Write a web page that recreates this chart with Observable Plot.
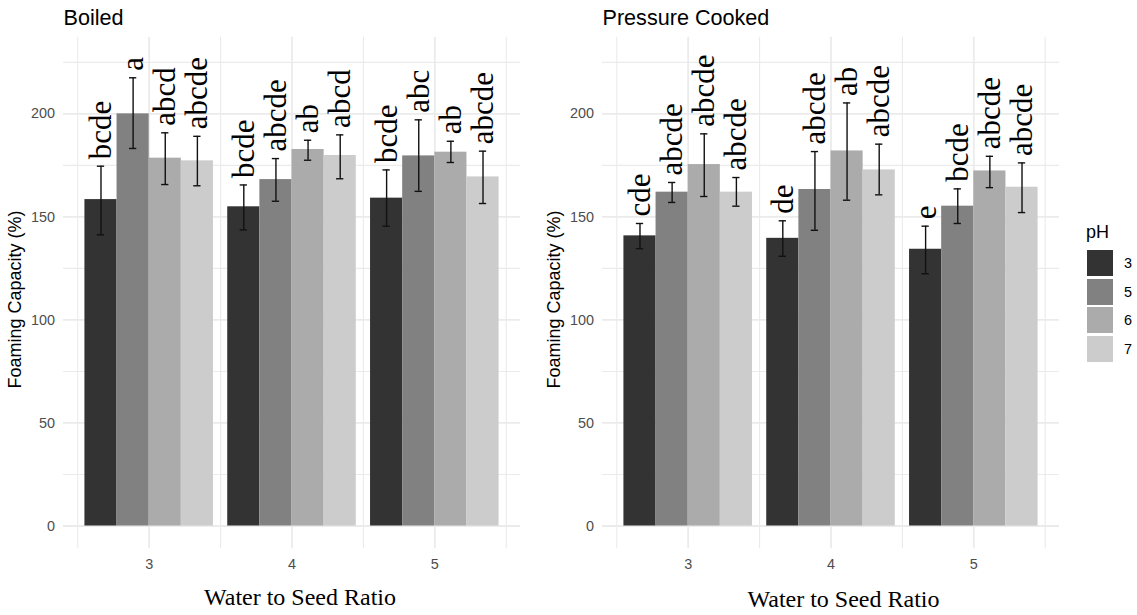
<!DOCTYPE html>
<html>
<head>
<meta charset="utf-8">
<script src="https://cdn.jsdelivr.net/npm/d3@7"></script>
<script src="https://cdn.jsdelivr.net/npm/@observablehq/plot@0.6"></script>
<style>
  body { margin: 0; background: #ffffff; }
  #root { position: relative; width: 1137px; height: 615px; overflow: hidden; background: #ffffff;
          font-family: "Liberation Sans", Arial, sans-serif; }
  .panel { position: absolute; top: 0; }
  .lg { position: absolute; white-space: nowrap; }
</style>
</head>
<body>
<div id="root"></div>
<script>
// ---------- data ----------
const panelTitles = ["Boiled", "Pressure Cooked"];
const ratios = [3, 4, 5];
const phLevels = ["3", "5", "6", "7"];
const phColors = ["#333333", "#818181", "#ABABAB", "#CCCCCC"];
const yTicks = [0, 50, 100, 150, 200];

// rows = water-to-seed ratio 3,4,5 ; columns = pH 3,5,6,7
const boiledMean    = [[158.4, 200.0, 178.5, 177.2], [154.9, 168.1, 182.7, 179.8], [159.1, 179.6, 181.4, 169.4]];
const boiledHigh    = [[174.6, 217.5, 190.8, 189.1], [165.5, 178.3, 187.2, 189.8], [172.8, 197.1, 186.7, 181.9]];
const boiledLow     = [[141.3, 183.2, 165.7, 165.1], [143.7, 157.6, 177.5, 168.5], [145.5, 162.4, 176.4, 156.5]];
const boiledLetters = [["bcde", "a", "abcd", "abcde"], ["bcde", "abcde", "ab", "abcd"], ["bcde", "abc", "ab", "abcde"]];

const pressureMean    = [[140.8, 162.0, 175.4, 162.0], [139.6, 163.3, 182.0, 172.8], [134.3, 155.2, 172.3, 164.4]];
const pressureHigh    = [[146.8, 166.7, 190.3, 169.1], [148.1, 181.7, 205.3, 185.3], [145.5, 163.6, 179.4, 176.2]];
const pressureLow     = [[134.6, 157.0, 159.9, 155.2], [130.9, 143.5, 158.1, 160.7], [122.4, 146.8, 164.2, 152.1]];
const pressureLetters = [["cde", "abcde", "abcde", "abcde"], ["de", "abcde", "ab", "abcde"], ["e", "bcde", "abcde", "abcde"]];

const yLabel = "Foaming Capacity (%)";
const xLabel = "Water to Seed Ratio";
const legendTitle = "pH";

// ---------- build tables (dodge, width 0.9) ----------
const dodge = 0.9, bw = dodge / phLevels.length, capHalf = 0.0255;
function buildRows(mean, hi, lo, letters) {
  return ratios.flatMap((r, i) => phLevels.map((ph, j) => {
    const x1 = r - dodge / 2 + j * bw;
    const xc = x1 + bw / 2;
    return {ratio: r, ph, mean: mean[i][j], hi: hi[i][j], lo: lo[i][j], letter: letters[i][j],
            x1, x2: x1 + bw, xc, c1: xc - capHalf, c2: xc + capHalf};
  }));
}
const tables = [
  buildRows(boiledMean, boiledHigh, boiledLow, boiledLetters),
  buildRows(pressureMean, pressureHigh, pressureLow, pressureLetters)
];

const majorX = ratios;
const minorX = [2.5, 3.5, 4.5, 5.5];
const majorY = yTicks;
const minorY = [25, 75, 125, 175, 225];

const sans = "'Liberation Sans', Arial, sans-serif";
const serif = "'Liberation Serif', 'Times New Roman', serif";
const grid = "#ebebeb";

const root = document.getElementById("root");
const panelLeft = [0, 539];
const xTitleDx = [8, 12.5];
const xTitleDy = [55.7, 57.7];

tables.forEach((rows, p) => {
  const chart = Plot.plot({
    width: p === 0 ? 540 : 598,
    height: 615,
    marginLeft: 63,
    marginRight: p === 0 ? 20 : 78,
    marginTop: 36.7,
    marginBottom: 66.7,
    style: {background: "transparent", fontFamily: sans, fontSize: "14.4px", overflow: "visible"},
    x: {type: "linear", domain: [2.4, 5.6]},
    y: {domain: [-11.06, 237.2]},
    color: {domain: phLevels, range: phColors},
    marks: [
      Plot.ruleY(minorY, {stroke: grid, strokeWidth: 1.1}),
      Plot.ruleY(majorY, {stroke: grid, strokeWidth: 1.8}),
      Plot.ruleX(minorX, {stroke: grid, strokeWidth: 1.1}),
      Plot.ruleX(majorX, {stroke: grid, strokeWidth: 1.8}),
      Plot.rectY(rows, {x1: "x1", x2: "x2", y1: 0, y2: "mean", fill: "ph"}),
      Plot.ruleX(rows, {x: "xc", y1: "lo", y2: "hi", stroke: "#111", strokeWidth: 1.4}),
      Plot.ruleY(rows, {y: "hi", x1: "c1", x2: "c2", stroke: "#111", strokeWidth: 1.4}),
      Plot.ruleY(rows, {y: "lo", x1: "c1", x2: "c2", stroke: "#111", strokeWidth: 1.4}),
      Plot.text(rows, {x: "xc", y: "hi", text: "letter", rotate: -90, textAnchor: "start",
                       lineAnchor: "middle", dy: -7, fontSize: 31, fontFamily: serif, fill: "#000"}),
      Plot.axisY({ticks: yTicks, tickSize: 0, tickPadding: 8.5, label: null, fontSize: 14.4,
                  color: "#4d4d4d", fontFamily: sans}),
      Plot.axisX({ticks: ratios, tickSize: 0, tickPadding: 10, label: null, tickFormat: d => String(d),
                  fontSize: 14.4, color: "#4d4d4d", fontFamily: sans}),
      Plot.text([panelTitles[p]], {frameAnchor: "top-left", textAnchor: "start", lineAnchor: "bottom",
                  dy: -12.7, fontSize: 21.6, fontFamily: sans, fill: "#000"}),
      Plot.text([yLabel], {frameAnchor: "left", rotate: -90, textAnchor: "middle", lineAnchor: "bottom",
                  dx: -42.3, dy: 6.5, fontSize: 18, fontFamily: sans, fill: "#000"}),
      Plot.text([xLabel], {frameAnchor: "bottom", textAnchor: "middle", lineAnchor: "bottom",
                  dx: xTitleDx[p], dy: xTitleDy[p], fontSize: 24, fontFamily: serif, fill: "#000"})
    ]
  });
  chart.classList.add("panel");
  chart.style.left = panelLeft[p] + "px";
  root.appendChild(chart);
});

// ---------- legend ----------
const lt = document.createElement("div");
lt.className = "lg";
lt.textContent = legendTitle;
Object.assign(lt.style, {left: "1086px", top: "222px", fontSize: "18px", lineHeight: "20px", color: "#000"});
root.appendChild(lt);
phLevels.forEach((ph, i) => {
  const top = 250 + i * 28.7;
  const sw = document.createElement("div");
  sw.className = "lg";
  Object.assign(sw.style, {left: "1086.7px", top: top + "px", width: "26px", height: "26px", background: phColors[i]});
  root.appendChild(sw);
  const lb = document.createElement("div");
  lb.className = "lg";
  lb.textContent = ph;
  Object.assign(lb.style, {left: "1124px", top: top + "px", height: "26px", lineHeight: "26px", fontSize: "14.4px", color: "#000"});
  root.appendChild(lb);
});
</script>
</body>
</html>
